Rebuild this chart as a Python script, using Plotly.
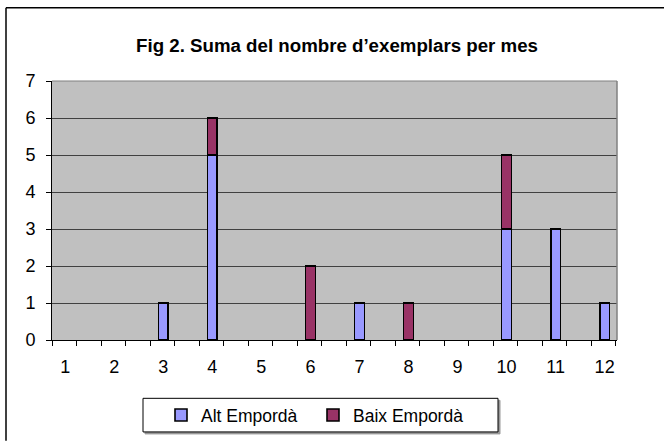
import plotly.graph_objects as go

months = [1, 2, 3, 4, 5, 6, 7, 8, 9, 10, 11, 12]
alt_emporda = [0, 0, 1, 5, 0, 0, 1, 0, 0, 3, 3, 1]
baix_emporda = [0, 0, 0, 1, 0, 2, 0, 1, 0, 2, 0, 0]
y_ticks = [0, 1, 2, 3, 4, 5, 6, 7]
title_text = "Fig 2. Suma del nombre d\u2019exemplars per mes"

W, H = 664, 445
L, R, T, B = 52, 617, 81, 343  # plot area pixels

def px(x):
    return (x - L) / (R - L)

def py(y):
    return (B - y) / (B - T)

def nz(v):
    return [None if a == 0 else a for a in v]

font = "Liberation Sans, Arial, sans-serif"

fig = go.Figure()
fig.add_trace(go.Bar(x=months, y=nz(alt_emporda), name="Alt Empordà",
                     marker=dict(color="#9999FF", line=dict(color="black", width=1.6)),
                     width=0.2))
fig.add_trace(go.Bar(x=months, y=nz(baix_emporda), name="Baix Empordà",
                     marker=dict(color="#993366", line=dict(color="black", width=1.6)),
                     width=0.2))

x0 = 1 - (65.2 - L) / 49.04
x1 = 1 + (R - 65.2) / 49.04
minor_ticks = [x0 + 0.5 * k for k in range(24)]

fig.update_layout(
    width=W, height=H,
    margin=dict(l=L, r=W - R, t=T, b=H - B, pad=0),
    barmode="stack",
    paper_bgcolor="white",
    plot_bgcolor="#C0C0C0",
    font=dict(family=font, size=18, color="black"),
    title=dict(text="<b>" + title_text + "</b>", x=px(337), xref="paper", xanchor="center",
               y=1 - 45 / H, yref="container", yanchor="middle",
               font=dict(family=font, size=18.7, color="black")),
    xaxis=dict(range=[x0, x1], tickvals=months, ticktext=[str(m) for m in months],
               ticks="", showgrid=False, zeroline=False,
               showline=True, linecolor="black", linewidth=1,
               tickfont=dict(size=18), ticklabelstandoff=10,
               minor=dict(tickvals=minor_ticks, ticks="outside", ticklen=5,
                          tickcolor="black", tickwidth=1, showgrid=False)),
    yaxis=dict(range=[0, 7], tickvals=y_ticks, ticks="outside", ticklen=5,
               tickcolor="black", showgrid=True, gridcolor="#404040", gridwidth=1,
               zeroline=False, showline=True, linecolor="black", linewidth=1,
               tickfont=dict(size=18), ticklabelstandoff=7),
    showlegend=True,
    legend=dict(orientation="h", x=px(161), xanchor="left", y=py(419), yanchor="middle",
                font=dict(family=font, size=17.5), bgcolor="rgba(0,0,0,0)",
                entrywidth=107, traceorder="normal"),
    shapes=[
        # outer chart border (top and left visible)
        dict(type="line", xref="paper", yref="paper", x0=px(6), x1=px(664), y0=py(7), y1=py(7),
             line=dict(color="black", width=1.5)),
        dict(type="line", xref="paper", yref="paper", x0=px(6), x1=px(6), y0=py(7), y1=py(445),
             line=dict(color="black", width=1.5)),
        # plot area right / top border in gray
        dict(type="line", xref="paper", yref="paper", x0=1, x1=1, y0=0, y1=1,
             line=dict(color="#808080", width=1.5)),
        dict(type="line", xref="paper", yref="paper", x0=0, x1=1, y0=1, y1=1,
             line=dict(color="#808080", width=1)),
        # legend shadow and box
        dict(type="rect", xref="paper", yref="paper", x0=px(145), x1=px(500), y0=py(438), y1=py(404),
             line=dict(color="#999999", width=1), fillcolor="#999999", layer="below"),
        dict(type="rect", xref="paper", yref="paper", x0=px(143), x1=px(498), y0=py(436), y1=py(402),
             line=dict(color="black", width=1), fillcolor="white", layer="below"),
    ],
)

fig.write_html("out.html", config={"displayModeBar": False},
               post_script="document.body.style.margin='0';")
